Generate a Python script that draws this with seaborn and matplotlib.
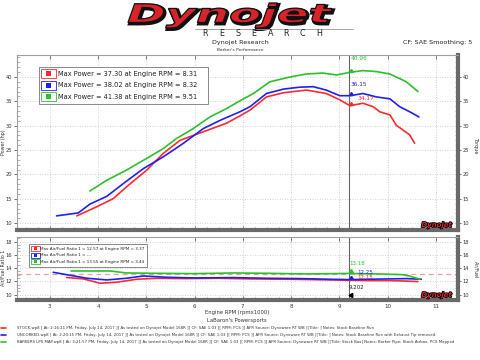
import numpy as np
import pandas as pd
import matplotlib
matplotlib.use("Agg")
import matplotlib.pyplot as plt
import matplotlib.patheffects as pe
from matplotlib.patches import Rectangle, PathPatch
from matplotlib.textpath import TextPath
from matplotlib.font_manager import FontProperties
from matplotlib.transforms import Affine2D
from matplotlib.ticker import MultipleLocator
import seaborn as sns

# ---------------- data ----------------
runs = ["STOCK", "UNCORKED", "BARKERS"]
colors = {"STOCK": "#ff2a2a", "UNCORKED": "#2020f0", "BARKERS": "#2cc02c"}

rpm_stock = [3.56, 3.97, 4.32, 4.59, 5.01, 5.35, 5.70, 6.18, 6.66, 6.94, 7.15, 7.49, 7.84,
             8.32, 8.73, 9.01, 9.22, 9.49, 9.70, 9.84, 10.05, 10.18, 10.32, 10.46, 10.56]
hp_stock = [11.5, 13.35, 15.07, 17.46, 20.9, 24.3, 27.0, 28.75, 30.5, 32.0, 33.2, 35.9, 36.75,
            37.3, 36.6, 35.3, 34.1, 34.6, 33.9, 32.85, 32.2, 30.1, 29.1, 28.1, 26.4]

rpm_unc = [3.14, 3.59, 3.83, 4.18, 4.52, 4.94, 5.35, 5.77, 6.18, 6.53, 6.94, 7.15, 7.49,
           7.84, 8.18, 8.46, 8.73, 9.01, 9.22, 9.49, 9.77, 10.05, 10.25, 10.46, 10.65]
hp_unc = [11.5, 12.1, 13.9, 15.5, 18.1, 21.2, 23.6, 26.4, 29.4, 31.1, 32.85, 33.9, 36.6,
          37.5, 37.9, 38.0, 37.3, 36.15, 36.15, 36.6, 35.9, 35.5, 33.9, 32.85, 31.8]

rpm_bark = [3.83, 4.18, 4.59, 5.01, 5.35, 5.63, 5.97, 6.32, 6.66, 6.94, 7.22, 7.56, 7.98,
            8.32, 8.66, 8.94, 9.22, 9.49, 9.77, 10.05, 10.39, 10.63]
hp_bark = [16.6, 18.8, 20.9, 23.3, 25.3, 27.4, 29.4, 31.8, 33.5, 35.1, 36.6, 39.0, 40.0,
           40.6, 40.8, 40.4, 40.95, 41.3, 41.1, 40.6, 39.0, 37.0]

afr_rpm_stock = [3.35, 3.70, 4.04, 4.38, 4.80, 5.22, 5.8, 6.5, 7.2, 8.0, 8.8, 9.2, 9.6, 10.0, 10.3, 10.63]
afr_stock = [12.57, 12.35, 11.7, 11.85, 12.3, 12.45, 12.4, 12.45, 12.35, 12.3, 12.2, 12.15, 12.1, 12.1, 12.05, 11.95]

afr_rpm_unc = [3.07, 3.42, 3.77, 4.18, 4.59, 4.94, 5.42, 6.0, 6.8, 7.5, 8.2, 8.8, 9.2, 9.6, 10.0, 10.4, 10.70]
afr_unc = [13.35, 12.9, 12.45, 12.2, 12.45, 12.8, 12.6, 12.5, 12.55, 12.45, 12.4, 12.3, 12.25, 12.3, 12.35, 12.4, 12.3]

afr_rpm_bark = [3.44, 3.8, 4.25, 4.59, 5.2, 6.0, 6.8, 7.5, 8.3, 9.2, 9.8, 10.3, 10.45, 10.67]
afr_bark = [13.55, 13.55, 13.55, 13.25, 13.2, 13.15, 13.25, 13.2, 13.1, 13.18, 13.1, 13.0, 12.8, 12.3]

afr_target = 13.1
cursor_rpm = 9.202
hp_cursor = {"BARKERS": 40.96, "UNCORKED": 36.15, "STOCK": 34.17}
afr_cursor = {"BARKERS": 13.18, "UNCORKED": 12.25, "STOCK": 12.15}

legend_top = ["Max Power = 37.30 at Engine RPM = 8.31",
              "Max Power = 38.02 at Engine RPM = 8.32",
              "Max Power = 41.38 at Engine RPM = 9.51"]
legend_bot = ["Max Air/Fuel Ratio 1 = 12.57 at Engine RPM = 3.37",
              "Max Air/Fuel Ratio 1 = ---",
              "Max Air/Fuel Ratio 1 = 13.55 at Engine RPM = 3.44"]
footer = [
    "STOCK.wp8 [ At: 2:16:21 PM, Friday, July 14, 2017 ][ As tested on Dynojet Model 168R ][ CF: SAE 1.03 ][ RPM: PCS ][ AFR Source: Dynoware RT WB ][Title: ] Notes: Stock Baseline Run",
    "UNCORKED.wp8 [ At: 2:20:15 PM, Friday, July 14, 2017 ][ As tested on Dynojet Model 168R ][ CF: SAE 1.03 ][ RPM: PCS ][ AFR Source: Dynoware RT WB ][Title: ] Notes: Stock Baseline Run with Exhaust Tip removed.",
    "BARKERS LPS MAP.wp8 [ At: 3:21:57 PM, Friday, July 14, 2017 ][ As tested on Dynojet Model 168R ][ CF: SAE 1.03 ][ RPM: PCS ][ AFR Source: Dynoware RT WB ][Title: Stock Box] Notes: Barker Pipe, Stock Airbox, PCS Mapped",
]
x_ticks = [3, 4, 5, 6, 7, 8, 9, 10, 11]
hp_ticks = [10, 15, 20, 25, 30, 35, 40]
afr_ticks = [10, 12, 14, 16, 18]

# ---------------- frames ----------------
pw = pd.concat([
    pd.DataFrame({"rpm": rpm_stock, "val": hp_stock, "run": "STOCK"}),
    pd.DataFrame({"rpm": rpm_unc, "val": hp_unc, "run": "UNCORKED"}),
    pd.DataFrame({"rpm": rpm_bark, "val": hp_bark, "run": "BARKERS"}),
], ignore_index=True)
af = pd.concat([
    pd.DataFrame({"rpm": afr_rpm_stock, "val": afr_stock, "run": "STOCK"}),
    pd.DataFrame({"rpm": afr_rpm_unc, "val": afr_unc, "run": "UNCORKED"}),
    pd.DataFrame({"rpm": afr_rpm_bark, "val": afr_bark, "run": "BARKERS"}),
], ignore_index=True)

sns.set_theme(style="white")
plt.rcParams["font.family"] = ["DejaVu Sans"]

W, H = 480, 360
fig = plt.figure(figsize=(4.8, 3.6), dpi=100)
fig.patch.set_facecolor("white")


def fx(px):
    return px / W


def fy(py):
    return 1 - py / H


ax1 = fig.add_axes([fx(17), fy(230), fx(458) - fx(17), fy(55) - fy(230)])
ax2 = fig.add_axes([fx(17), fy(300), fx(458) - fx(17), fy(237) - fy(300)])

grid_kw = dict(color="#c4c4c4", lw=0.6, ls=(0, (1, 2)))

for ax in (ax1, ax2):
    ax.set_xlim(2.32, 11.46)
    ax.set_xticks(x_ticks)
    ax.xaxis.set_minor_locator(MultipleLocator(0.25))
    ax.grid(True, which="major", **grid_kw)
    ax.set_axisbelow(True)
    for s in ("top", "left"):
        ax.spines[s].set_color("#a0a0a0")
        ax.spines[s].set_linewidth(0.8)
    for s in ("bottom", "right"):
        ax.spines[s].set_color("#6a6a6a")
        ax.spines[s].set_linewidth(3.0)
    ax.yaxis.tick_right()
    ax.tick_params(axis="y", which="major", right=True, left=True, direction="out",
                   length=2.5, width=0.6, color="#555555", labelsize=3.7, pad=1.0,
                   labelcolor="#333333", labelleft=True, labelright=True)
    ax.tick_params(axis="y", which="minor", right=True, left=True, direction="in",
                   length=2, width=0.4, color="#777777")
    ax.tick_params(axis="x", which="major", bottom=True, top=True, direction="in",
                   length=3, width=0.6, color="#666666", labelsize=4.0, pad=3,
                   labelcolor="#333333")
    ax.tick_params(axis="x", which="minor", bottom=True, top=False, direction="in",
                   length=2.5, width=0.5, color="#666666")

# ---- top panel ----
ax1.set_ylim(8.6, 44.5)
ax1.set_yticks(hp_ticks)
ax1.yaxis.set_minor_locator(MultipleLocator(1))
ax1.tick_params(axis="x", labelbottom=False)
sns.lineplot(data=pw, x="rpm", y="val", hue="run", palette=colors, hue_order=runs,
             sort=False, estimator=None, lw=1.2, legend=False, ax=ax1)
ax1.axvline(cursor_rpm, color="#666666", lw=0.8)
ax1.set_xlabel("")
ax1.set_ylabel("")
offs_top = {"BARKERS": (1, 8), "UNCORKED": (1, 6), "STOCK": (6, 3)}
for r in runs:
    v = hp_cursor[r]
    ax1.plot([cursor_rpm + 0.04], [v + 0.3], marker=(3, 0, 0), ms=3, color=colors[r])
    ax1.annotate(f"{v:.2f}", (cursor_rpm, v), xytext=offs_top[r], textcoords="offset points",
                 fontsize=4.2, color=colors[r], ha="left", va="bottom")

# ---- bottom panel ----
ax2.set_ylim(9.17, 18.68)
ax2.set_yticks(afr_ticks)
ax2.yaxis.set_minor_locator(MultipleLocator(0.5))
ax2.axhline(afr_target, color="#e8a0a0", lw=0.9, ls=(0, (4, 3)), zorder=1)
sns.lineplot(data=af, x="rpm", y="val", hue="run", palette=colors, hue_order=runs,
             sort=False, estimator=None, lw=1.2, legend=False, ax=ax2, zorder=3)
ax2.axvline(cursor_rpm, color="#666666", lw=0.8)
ax2.set_xlabel("")
ax2.set_ylabel("")
offs_bot = {"BARKERS": (0, 5), "UNCORKED": (6, 3), "STOCK": (6, 0)}
for r in runs:
    v = afr_cursor[r]
    ax2.plot([cursor_rpm + 0.04], [v + 0.3], marker=(3, 0, 0), ms=3, color=colors[r])
    ax2.annotate(f"{v:.2f}", (cursor_rpm, v), xytext=offs_bot[r], textcoords="offset points",
                 fontsize=4.0, color=colors[r], ha="left", va="bottom")
ax2.annotate(f"{cursor_rpm:.3f}", (cursor_rpm, 9.17), xytext=(0, 7), textcoords="offset points",
             fontsize=4.0, color="#222222", ha="left", va="bottom")
ax2.plot([cursor_rpm + 0.05], [9.9], marker=(3, 0, -30), ms=3.5, color="black")

# axis titles
fig.text(fx(3.5), fy(142), "Power (hp)", rotation=90, fontsize=3.4, color="#333333",
         ha="center", va="center")
fig.text(fx(3.5), fy(268), "Air/Fuel Ratio 1", rotation=90, fontsize=3.4, color="#333333",
         ha="center", va="center")
fig.text(fx(476), fy(145), "Torque", rotation=270, fontsize=3.6, color="#333333",
         ha="center", va="center")
fig.text(fx(476), fy(270), "Air/Fuel", rotation=270, fontsize=3.3, color="#333333",
         ha="center", va="center")


# ---- legends (drawn in figure pixels) ----
def legend_box(x0, y0, x1, rows, row_h, fs, sw, sh, txt_x):
    fig.add_artist(Rectangle((fx(x0), fy(y0 + row_h * len(rows) + 3)), fx(x1) - fx(x0),
                             fy(y0) - fy(y0 + row_h * len(rows) + 3), transform=fig.transFigure,
                             facecolor="white", edgecolor="#8a8a8a", lw=0.7, zorder=10))
    for i, (r, t) in enumerate(zip(runs, rows)):
        cy = y0 + 1.5 + row_h * (i + 0.5)
        fig.add_artist(Rectangle((fx(x0 + 2), fy(cy + sh / 2)), fx(sw), sh / H,
                                 transform=fig.transFigure, facecolor="white",
                                 edgecolor=colors[r], lw=0.6, zorder=11))
        q = sh * 0.55
        fig.add_artist(Rectangle((fx(x0 + 2 + sw / 2 - q / 2), fy(cy + q / 2)), fx(q), q / H,
                                 transform=fig.transFigure, facecolor=colors[r],
                                 edgecolor="none", zorder=12))
        fig.text(fx(txt_x), fy(cy), t, fontsize=fs, color="#222222", va="center",
                 ha="left", zorder=12)


legend_box(39, 66.5, 208, legend_top, 11.5, 4.75, 15, 8.5, 58)
legend_box(29, 244, 147, legend_bot, 6.5, 3.0, 9, 5.2, 40)

# ---- header logo ----
fp = FontProperties(family="DejaVu Sans", weight="bold", style="italic")
tp = TextPath((0, 0), "Dynojet", size=1, prop=fp)
bb = tp.get_extents()
tx0, tx1, ty0, ty1 = 128, 332, 3, 28
sx = (fx(tx1) - fx(tx0)) / bb.width
sy = (fy(ty0) - fy(ty1)) / bb.height
tr = Affine2D().translate(-bb.x0, -bb.y0).scale(sx, sy).translate(fx(tx0), fy(ty1))
shadow = PathPatch(tr.transform_path(tp), facecolor="#111111", edgecolor="#111111", lw=2.2)
shadow.set_transform(Affine2D().translate(0.003, -0.004) + fig.transFigure)
fig.add_artist(shadow)
fig.add_artist(PathPatch(tr.transform_path(tp), facecolor="#d8232a", edgecolor="#111111", lw=0.9,
                         transform=fig.transFigure))

fig.add_artist(plt.Line2D([fx(195), fx(353)], [fy(28.5), fy(28.5)], transform=fig.transFigure,
                          color="#9a9a9a", lw=0.6))
for i, ch in enumerate("RESEARCH"):
    fig.text(fx(205 + i * 16.3), fy(33.5), ch, fontsize=5.8, color="#222222",
             ha="center", va="center")
fig.text(0.5, fy(42.5), "Dynojet Research", fontsize=4.6, color="#222222", ha="center", va="center")
fig.text(0.5, fy(50), "Barker's Performance", fontsize=3.2, color="#333333", ha="center", va="center")
fig.text(fx(472), fy(42.5), "CF: SAE Smoothing: 5", fontsize=4.6, color="#222222",
         ha="right", va="center")

# small logos in panels
for ypx in (225, 295):
    fig.text(fx(452), fy(ypx), "Dynojet", fontsize=5, fontweight="heavy", fontstyle="italic",
             color="#d8232a", ha="right", va="center",
             path_effects=[pe.withStroke(linewidth=1.2, foreground="black")])

# ---- footer ----
fig.text(fx(237), fy(312.5), "Engine RPM (rpmx1000)", fontsize=3.8, color="#333333",
         ha="center", va="center")
fig.text(fx(237), fy(320.5), "LaBaron's Powersports", fontsize=3.8, color="#333333",
         ha="center", va="center")
for i, (r, t) in enumerate(zip(runs, footer)):
    yy = 328.3 + i * 6.6
    fig.add_artist(plt.Line2D([fx(0.5), fx(5.5)], [fy(yy), fy(yy)], transform=fig.transFigure,
                              color=colors[r], lw=1.2))
    fig.text(fx(17), fy(yy), t, fontsize=2.8, color="#333333", ha="left", va="center")

fig.savefig("out.png", dpi=100)
